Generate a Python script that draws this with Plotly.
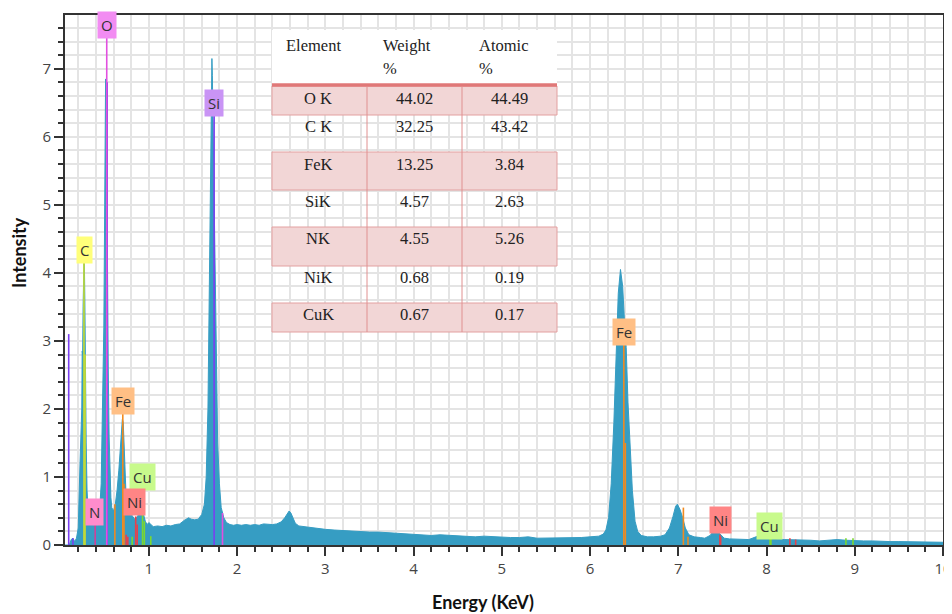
import plotly.graph_objects as go

# ---------------- data ----------------
energy = [0.05, 0.10, 0.12, 0.14, 0.16, 0.18, 0.20, 0.21, 0.22, 0.23, 0.24, 0.245, 0.25, 0.255, 0.26,
          0.265, 0.27, 0.275, 0.28, 0.29, 0.30, 0.31, 0.32, 0.34, 0.36, 0.38, 0.40, 0.42, 0.44, 0.46,
          0.47, 0.48, 0.49, 0.50, 0.505, 0.51, 0.515, 0.52, 0.525, 0.53, 0.54, 0.55, 0.56, 0.57, 0.58,
          0.60, 0.62, 0.64, 0.66, 0.68, 0.69, 0.70, 0.71, 0.72, 0.73, 0.74, 0.76, 0.78, 0.80, 0.82,
          0.84, 0.86, 0.88, 0.90, 0.92, 0.94, 0.96, 0.98, 1.00, 1.02, 1.05, 1.10, 1.15, 1.20, 1.25,
          1.30, 1.35, 1.40, 1.45, 1.48, 1.52, 1.56, 1.60, 1.63, 1.65, 1.67, 1.68, 1.69, 1.70, 1.71,
          1.715, 1.72, 1.73, 1.74, 1.75, 1.76, 1.78, 1.80, 1.82, 1.85, 1.88, 1.92, 1.96, 2.00, 2.05,
          2.10, 2.15, 2.20, 2.25, 2.30, 2.35, 2.40, 2.45, 2.50, 2.54, 2.57, 2.59, 2.61, 2.63, 2.66,
          2.70, 2.75, 2.80, 2.85, 2.90, 2.95, 3.00, 3.10, 3.20, 3.30, 3.40, 3.50, 3.60, 3.70, 3.80,
          3.90, 4.00, 4.10, 4.20, 4.30, 4.40, 4.50, 4.60, 4.70, 4.80, 4.90, 5.00, 5.10, 5.20, 5.30,
          5.40, 5.50, 5.60, 5.70, 5.80, 5.90, 6.00, 6.05, 6.10, 6.15, 6.18, 6.21, 6.24, 6.27, 6.30,
          6.32, 6.345, 6.37, 6.39, 6.41, 6.43, 6.45, 6.48, 6.51, 6.54, 6.58, 6.65, 6.72, 6.80, 6.85,
          6.90, 6.94, 6.97, 6.99, 7.02, 7.05, 7.08, 7.12, 7.18, 7.25, 7.30, 7.36, 7.41, 7.46, 7.52,
          7.58, 7.65, 7.72, 7.80, 7.88, 7.95, 8.02, 8.10, 8.20, 8.30, 8.40, 8.50, 8.60, 8.70, 8.80,
          8.90, 9.00, 9.10, 9.20, 9.30, 9.40, 9.50, 9.60, 9.70, 9.80, 9.90, 10.00]
intensity = [0.00, 0.00, 0.08, 0.10, 0.05, 0.10, 0.25, 0.60, 1.20, 1.60, 2.00, 2.85, 2.80, 3.50, 3.85,
             4.15, 4.10, 3.60, 2.50, 1.50, 0.80, 0.50, 0.35, 0.42, 0.33, 0.28, 0.31, 0.28, 0.45, 0.90,
             1.50, 2.60, 3.20, 5.00, 6.00, 6.85, 6.80, 6.20, 5.00, 4.00, 2.60, 1.60, 1.00, 0.70, 0.55,
             0.50, 0.60, 0.80, 1.10, 1.50, 1.75, 1.85, 1.80, 1.50, 1.10, 0.80, 0.60, 0.50, 0.45, 0.42,
             0.38, 0.40, 0.45, 0.48, 0.50, 0.45, 0.35, 0.30, 0.33, 0.30, 0.27, 0.28, 0.27, 0.29, 0.28,
             0.30, 0.31, 0.36, 0.40, 0.38, 0.37, 0.38, 0.45, 0.60, 1.00, 2.00, 3.00, 4.40, 5.60, 6.40,
             7.15, 6.90, 6.00, 5.00, 4.00, 3.00, 1.50, 0.90, 0.55, 0.40, 0.33, 0.30, 0.29, 0.30, 0.29,
             0.30, 0.29, 0.30, 0.29, 0.31, 0.30, 0.30, 0.31, 0.34, 0.40, 0.47, 0.50, 0.47, 0.40, 0.32,
             0.28, 0.27, 0.27, 0.26, 0.25, 0.24, 0.23, 0.22, 0.21, 0.21, 0.20, 0.19, 0.19, 0.18, 0.17,
             0.17, 0.16, 0.15, 0.14, 0.15, 0.14, 0.13, 0.13, 0.12, 0.13, 0.12, 0.12, 0.11, 0.11, 0.12,
             0.10, 0.10, 0.11, 0.10, 0.11, 0.11, 0.12, 0.12, 0.13, 0.16, 0.22, 0.40, 0.90, 1.80, 3.00,
             3.70, 4.05, 3.80, 3.30, 2.90, 2.10, 1.50, 0.80, 0.35, 0.20, 0.14, 0.12, 0.12, 0.13, 0.15,
             0.25, 0.42, 0.57, 0.60, 0.52, 0.40, 0.25, 0.15, 0.12, 0.11, 0.10, 0.14, 0.22, 0.18, 0.10,
             0.09, 0.09, 0.09, 0.08, 0.12, 0.15, 0.14, 0.09, 0.08, 0.08, 0.07, 0.07, 0.06, 0.07, 0.08,
             0.07, 0.06, 0.06, 0.06, 0.05, 0.05, 0.05, 0.05, 0.05, 0.05, 0.04, 0.04]

# element marker lines: energy, height, colour group
marker_energy = [0.092, 0.14, 0.265, 0.277, 0.392, 0.523, 0.528, 0.615, 0.705, 0.718, 0.743, 0.762,
                 0.851, 0.868, 0.811, 0.929, 0.949, 1.022, 1.740, 1.835, 6.383, 6.400, 7.058, 7.110,
                 7.472, 7.480, 8.265, 8.330, 8.040, 8.050, 8.900, 8.980]
marker_height = [3.10, 0.10, 4.20, 2.80, 0.30, 7.55, 6.80, 0.60, 1.93, 0.90, 0.15, 0.12,
                 0.42, 0.30, 0.12, 0.48, 0.35, 0.13, 6.40, 0.47, 2.95, 1.50, 0.55, 0.12,
                 0.15, 0.12, 0.10, 0.08, 0.10, 0.10, 0.10, 0.10]
marker_group = ["Si", "Si", "C", "C", "N", "O", "Si", "Fe", "Fe", "Fe", "Ni", "Ni",
                "Ni", "Ni", "Cu", "Cu", "Cu", "Cu", "Si", "O", "Fe", "Fe", "Fe", "Fe",
                "Ni", "Ni", "Ni", "Ni", "Cu", "Cu", "Cu", "Cu"]
line_colors = {"Si": "#7a3ff0", "C": "#c8dc30", "N": "#d0409a", "O": "#e24fe0",
               "Fe": "#f08a20", "Ni": "#e8404a", "Cu": "#7ad830"}

# peak labels
label_text = ["O", "Si", "C", "Fe", "Cu", "N", "Ni", "Fe", "Ni", "Cu"]
label_x = [0.524, 1.736, 0.275, 0.706, 0.932, 0.388, 0.841, 6.39, 7.48, 8.03]
label_y = [7.65, 6.49, 4.34, 2.12, 1.00, 0.485, 0.63, 3.13, 0.37, 0.28]
label_bg = {"O": "#f28cf2", "Si": "#c994f5", "C": "#ffff7a", "Fe": "#ffbf85",
            "Cu": "#c8fa8c", "N": "#ff8ccc", "Ni": "#ff8585"}

# composition table
tbl_header = ["Element", "Weight", "Atomic"]
tbl_element = ["O K", "C K", "FeK", "SiK", "NK", "NiK", "CuK"]
tbl_weight = ["44.02", "32.25", "13.25", "4.57", "4.55", "0.68", "0.67"]
tbl_atomic = ["44.49", "43.42", "3.84", "2.63", "5.26", "0.19", "0.17"]

# ---------------- figure ----------------
OFF = 8                      # page body margin
W, H = 952 - OFF, 614 - OFF
ML, MR, MT, MB = 65 - OFF, 9, 15 - OFF, 69
PW, PH = W - ML - MR, H - MT - MB


def px(x):  # page pixel -> paper
    return (x - OFF - ML) / PW


def py(y):
    return (H - MB - (y - OFF)) / PH


fig = go.Figure()
fig.add_trace(go.Scatter(x=energy, y=intensity, mode="lines", fill="tozeroy",
                         line=dict(color="#369dc3", width=1), fillcolor="#369dc3",
                         hoverinfo="skip", showlegend=False))

for g, col in line_colors.items():
    xs, ys = [], []
    for e, h, gg in zip(marker_energy, marker_height, marker_group):
        if gg == g:
            xs += [e, e, None]
            ys += [0, h, None]
    fig.add_trace(go.Scatter(x=xs, y=ys, mode="lines", line=dict(color=col, width=1.6),
                             hoverinfo="skip", showlegend=False))

for t, x, y in zip(label_text, label_x, label_y):
    fig.add_annotation(x=x, y=y, xref="x", yref="y", text=t, showarrow=False,
                       xanchor="center", yanchor="middle",
                       bgcolor=label_bg[t], borderpad=3,
                       font=dict(family="Open Sans", size=15, color="#333"))

# table
shapes = []
tx0, tx1 = 272, 557
shapes.append(dict(type="rect", xref="paper", yref="paper", x0=px(tx0), x1=px(tx1),
                   y0=py(85), y1=py(30), fillcolor="white", line=dict(width=0), layer="above"))
row_edges = [86, 115, 152, 190, 227, 266, 303, 332]
for i in range(len(tbl_element)):
    y0, y1 = row_edges[i], row_edges[i + 1]
    if i % 2 == 0:
        shapes.append(dict(type="rect", xref="paper", yref="paper", x0=px(tx0), x1=px(tx1),
                           y0=py(y1), y1=py(y0), fillcolor="#f2d6d6",
                           line=dict(color="#e3a0a0", width=1), layer="above"))
shapes.append(dict(type="line", xref="paper", yref="paper", x0=px(tx0), x1=px(tx1),
                   y0=py(85), y1=py(85), line=dict(color="#e07878", width=3.5), layer="above"))
for cx in [367, 462]:
    shapes.append(dict(type="line", xref="paper", yref="paper", x0=px(cx), x1=px(cx),
                       y0=py(87), y1=py(332), line=dict(color="#e09090", width=1), layer="above"))

serif = dict(family="Liberation Serif", size=16.5, color="#222")
fig.add_annotation(x=px(313), y=py(46), xref="paper", yref="paper", text=tbl_header[0],
                   showarrow=False, xanchor="center", yanchor="middle", font=serif)
for hx, txt in [(381, tbl_header[1]), (477, tbl_header[2])]:
    fig.add_annotation(x=px(hx), y=py(46), xref="paper", yref="paper", text=txt,
                       showarrow=False, xanchor="left", yanchor="middle", font=serif)
    fig.add_annotation(x=px(hx), y=py(69), xref="paper", yref="paper", text="%",
                       showarrow=False, xanchor="left", yanchor="middle", font=serif)
row_text_y = [99, 127, 164, 201, 238, 277, 314]
for ry, a, b, c in zip(row_text_y, tbl_element, tbl_weight, tbl_atomic):
    for cxp, txt in [(318, a), (414, b), (509, c)]:
        fig.add_annotation(x=px(cxp), y=py(ry), xref="paper", yref="paper", text=txt,
                           showarrow=False, xanchor="center", yanchor="middle", font=serif)

# axis titles
fig.add_annotation(x=px(483), y=py(602), xref="paper", yref="paper", text="<b>Energy (KeV)</b>",
                   showarrow=False, xanchor="center", yanchor="middle",
                   font=dict(family="Lato", size=18, color="#111"))
fig.add_annotation(x=px(19), y=py(253), xref="paper", yref="paper", text="<b>Intensity</b>",
                   showarrow=False, textangle=-90, xanchor="center", yanchor="middle",
                   font=dict(family="Lato", size=18, color="#111"))

grid_col = "#e4e4e4"
fig.update_layout(
    width=W, height=H, margin=dict(l=ML, r=MR, t=MT, b=MB, autoexpand=False),
    paper_bgcolor="white", plot_bgcolor="white", shapes=shapes,
    xaxis=dict(range=[0.05, 10], tick0=0, dtick=1, ticks="outside", ticklen=9, tickwidth=1.5,
               tickcolor="#333", showline=True, linecolor="#333", linewidth=2, mirror=True,
               showgrid=True, gridcolor=grid_col, gridwidth=1.5, zeroline=False, automargin=False,
               tickfont=dict(family="Open Sans", size=15, color="#444"),
               minor=dict(dtick=0.2, tick0=0, ticks="outside", ticklen=5, tickcolor="#333",
                          showgrid=True, gridcolor=grid_col, gridwidth=1.5)),
    yaxis=dict(range=[0, 7.79], tick0=0, dtick=1, ticks="outside", ticklen=9, tickwidth=1.5,
               tickcolor="#333", showline=True, linecolor="#333", linewidth=2, mirror=True,
               showgrid=True, gridcolor=grid_col, gridwidth=1.5, zeroline=False, automargin=False,
               tickfont=dict(family="Open Sans", size=15, color="#444"),
               minor=dict(dtick=0.2, tick0=0, ticks="outside", ticklen=5, tickcolor="#333",
                          showgrid=True, gridcolor=grid_col, gridwidth=1.5)),
)

fig.write_html("out.html")
